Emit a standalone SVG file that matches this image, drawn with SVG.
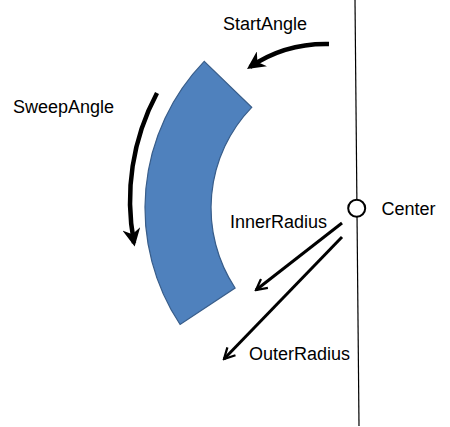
<svg xmlns="http://www.w3.org/2000/svg" width="450" height="427" viewBox="0 0 450 427">
<style>
text{font-family:"Liberation Sans",Arial,sans-serif;font-size:18px;fill:#000}
.thick{fill:none;stroke:#000;stroke-width:4.5}
.thin{fill:none;stroke:#000;stroke-width:3}
</style>
<defs>
<marker id="tri" viewBox="0 0 10 10" refX="8" refY="5" markerWidth="4" markerHeight="4" markerUnits="strokeWidth" orient="auto">
<path d="M0,0 L10,5 L0,10 L3,5 Z" fill="#000"/>
</marker>
<marker id="vee" viewBox="0 0 12 12" refX="10.5" refY="6" markerWidth="4.5" markerHeight="4.5" markerUnits="strokeWidth" orient="auto">
<path d="M1,1 L10.5,6 L1,11" fill="none" stroke="#000" stroke-width="2"/>
</marker>
</defs>
<rect width="450" height="427" fill="#fff"/>
<g id="axis">
<line x1="355" y1="0" x2="359" y2="426" stroke="#000" stroke-width="1.2"/>
</g>
<g id="arcShape">
<path d="M204.2,61.4 A211,211 0 0 0 180.1,324.5 L235.1,288 A145,145 0 0 1 251.7,107.3 Z" fill="#4F81BD" stroke="#385D8A" stroke-width="1.2"/>
</g>
<g id="center">
<circle cx="356.7" cy="208.3" r="8.5" fill="#fff" stroke="#000" stroke-width="2"/>
<text x="381.5" y="215">Center</text>
</g>
<g id="connectors">
<path class="thick" d="M329,44 Q285,43 250,67" marker-end="url(#tri)"/>
<path class="thick" d="M157,93 A228,228 0 0 0 134,243" marker-end="url(#tri)"/>
<path class="thin" d="M342,223 L256,290" marker-end="url(#vee)"/>
<path class="thin" d="M342,237 L224,359" marker-end="url(#vee)"/>
</g>
<g id="labels">
<text x="223" y="29.5">StartAngle</text>
<text x="13" y="113">SweepAngle</text>
<text x="230" y="228">InnerRadius</text>
<text x="249" y="360">OuterRadius</text>
</g>
</svg>
